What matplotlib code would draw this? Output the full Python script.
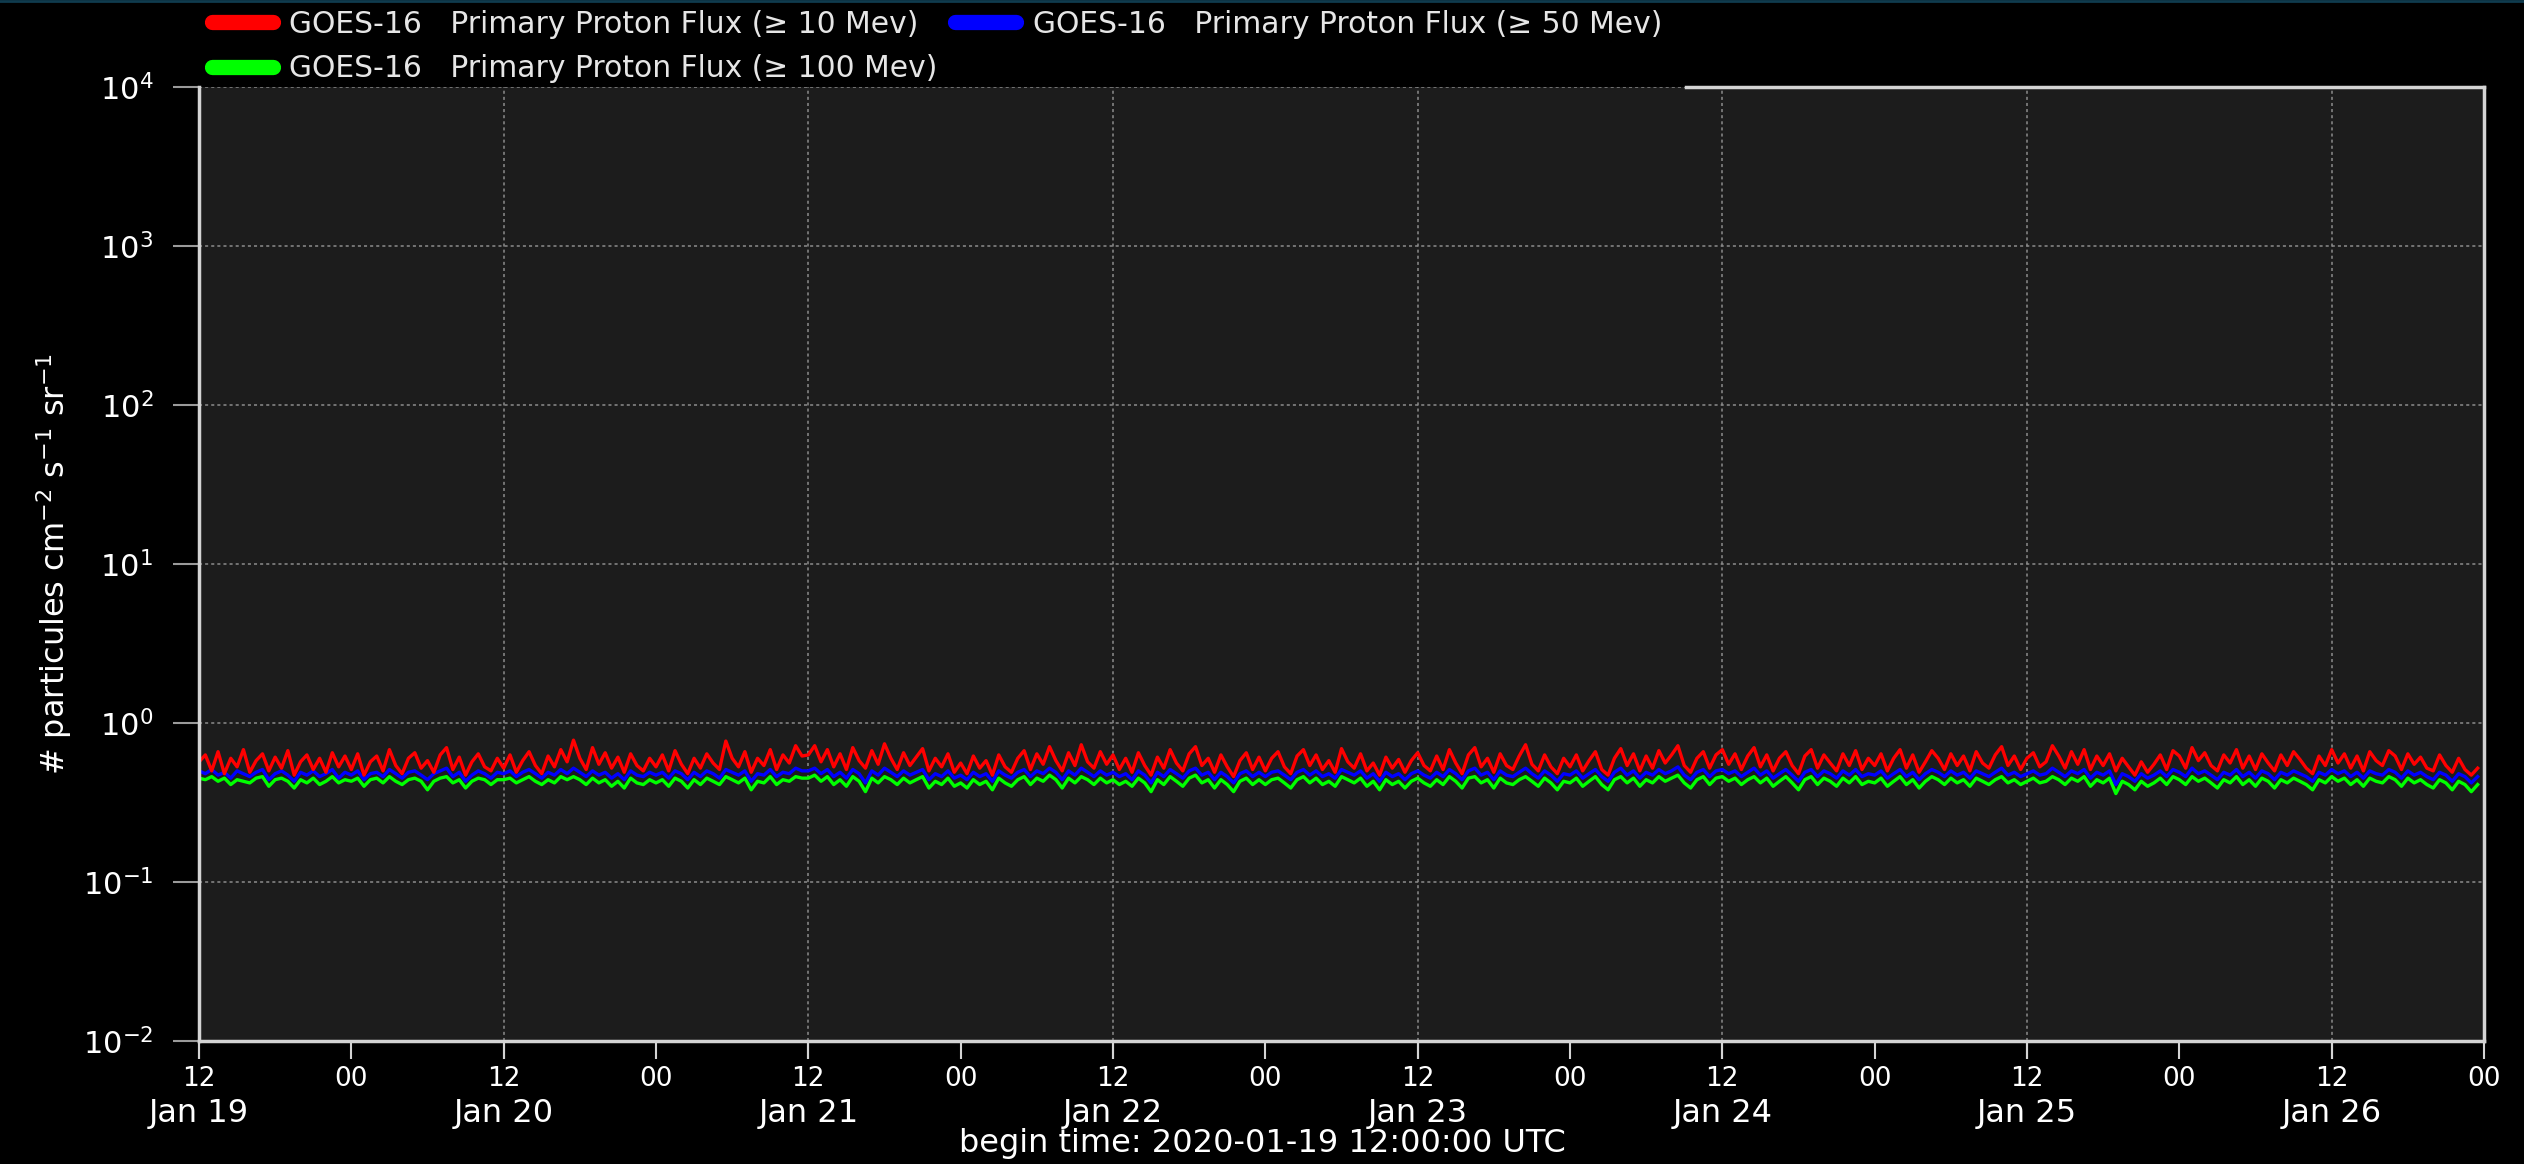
import matplotlib
matplotlib.use('Agg')
import matplotlib.pyplot as plt
import matplotlib.dates as mdates
from matplotlib.lines import Line2D
from matplotlib.ticker import LogLocator, NullLocator
import numpy as np
import pandas as pd

# 30-minute samples, starting 2020-01-19 12:00 UTC
start = '2020-01-19 12:00'
end = '2020-01-27 00:00'

flux_10 = [
    0.57, 0.63, 0.50, 0.66, 0.48, 0.60, 0.53, 0.68, 0.49, 0.58, 0.64, 0.50, 0.61, 0.52, 0.67, 0.47, 0.57, 0.63, 0.51, 0.60, 0.49, 0.65, 0.53, 0.62,
    0.51, 0.64, 0.47, 0.57, 0.62, 0.50, 0.68, 0.54, 0.48, 0.60, 0.65, 0.52, 0.58, 0.49, 0.63, 0.70, 0.51, 0.61, 0.47, 0.57, 0.64, 0.53, 0.50, 0.60,
    0.52, 0.63, 0.49, 0.58, 0.66, 0.54, 0.48, 0.62, 0.53, 0.68, 0.57, 0.78, 0.60, 0.51, 0.70, 0.55, 0.65, 0.52, 0.61, 0.49, 0.64, 0.54, 0.50, 0.60,
    0.53, 0.63, 0.50, 0.67, 0.55, 0.48, 0.60, 0.52, 0.64, 0.56, 0.51, 0.77, 0.60, 0.53, 0.66, 0.49, 0.60, 0.54, 0.68, 0.51, 0.63, 0.56, 0.72, 0.62,
    0.63, 0.72, 0.57, 0.68, 0.53, 0.64, 0.51, 0.70, 0.58, 0.52, 0.67, 0.55, 0.74, 0.60, 0.51, 0.65, 0.54, 0.61, 0.69, 0.50, 0.60, 0.53, 0.64, 0.49,
    0.56, 0.48, 0.62, 0.52, 0.58, 0.47, 0.63, 0.53, 0.49, 0.60, 0.67, 0.51, 0.64, 0.55, 0.71, 0.58, 0.50, 0.65, 0.54, 0.73, 0.57, 0.52, 0.66, 0.55,
    0.63, 0.51, 0.60, 0.49, 0.65, 0.54, 0.47, 0.61, 0.52, 0.68, 0.56, 0.50, 0.64, 0.71, 0.54, 0.60, 0.49, 0.63, 0.53, 0.46, 0.58, 0.65, 0.51, 0.61,
    0.50, 0.60, 0.66, 0.53, 0.48, 0.62, 0.68, 0.54, 0.63, 0.51, 0.58, 0.49, 0.69, 0.57, 0.52, 0.64, 0.50, 0.56, 0.47, 0.61, 0.52, 0.59, 0.49, 0.58,
    0.65, 0.54, 0.50, 0.62, 0.51, 0.68, 0.56, 0.48, 0.63, 0.70, 0.53, 0.60, 0.49, 0.64, 0.54, 0.51, 0.62, 0.73, 0.55, 0.50, 0.63, 0.53, 0.48, 0.60,
    0.53, 0.63, 0.50, 0.58, 0.66, 0.51, 0.47, 0.60, 0.69, 0.54, 0.64, 0.50, 0.62, 0.52, 0.67, 0.56, 0.63, 0.72, 0.54, 0.49, 0.60, 0.66, 0.52, 0.63,
    0.68, 0.55, 0.64, 0.51, 0.62, 0.70, 0.53, 0.63, 0.50, 0.60, 0.66, 0.54, 0.48, 0.62, 0.68, 0.52, 0.63, 0.56, 0.50, 0.64, 0.54, 0.67, 0.51, 0.60,
    0.54, 0.64, 0.50, 0.60, 0.68, 0.52, 0.63, 0.49, 0.57, 0.67, 0.60, 0.51, 0.64, 0.54, 0.62, 0.50, 0.66, 0.56, 0.52, 0.63, 0.71, 0.54, 0.62, 0.51,
    0.60, 0.65, 0.53, 0.57, 0.72, 0.62, 0.52, 0.66, 0.55, 0.68, 0.51, 0.62, 0.54, 0.64, 0.50, 0.60, 0.53, 0.47, 0.57, 0.49, 0.55, 0.63, 0.51, 0.67,
    0.62, 0.52, 0.70, 0.58, 0.65, 0.54, 0.50, 0.63, 0.56, 0.68, 0.52, 0.62, 0.51, 0.64, 0.56, 0.50, 0.63, 0.54, 0.66, 0.59, 0.52, 0.48, 0.62, 0.54,
    0.68, 0.56, 0.64, 0.52, 0.62, 0.50, 0.66, 0.58, 0.54, 0.67, 0.62, 0.51, 0.64, 0.55, 0.61, 0.52, 0.50, 0.63, 0.54, 0.49, 0.60, 0.51, 0.47, 0.52,
]

flux_50 = [
    0.50, 0.48, 0.51, 0.47, 0.49, 0.45, 0.50, 0.48, 0.46, 0.49, 0.51, 0.44, 0.48, 0.50, 0.47, 0.43, 0.49, 0.47, 0.50, 0.46, 0.48, 0.51, 0.45, 0.49,
    0.47, 0.50, 0.44, 0.48, 0.49, 0.46, 0.51, 0.48, 0.45, 0.49, 0.50, 0.47, 0.44, 0.48, 0.50, 0.52, 0.46, 0.49, 0.43, 0.47, 0.50, 0.48, 0.45, 0.49,
    0.48, 0.50, 0.46, 0.49, 0.51, 0.48, 0.45, 0.49, 0.47, 0.51, 0.48, 0.52, 0.49, 0.46, 0.50, 0.47, 0.49, 0.45, 0.48, 0.44, 0.50, 0.47, 0.46, 0.49,
    0.47, 0.49, 0.45, 0.50, 0.48, 0.44, 0.49, 0.46, 0.50, 0.48, 0.45, 0.51, 0.49, 0.47, 0.50, 0.43, 0.48, 0.47, 0.51, 0.46, 0.49, 0.48, 0.52, 0.50,
    0.50, 0.52, 0.48, 0.51, 0.46, 0.49, 0.45, 0.51, 0.48, 0.42, 0.50, 0.47, 0.52, 0.49, 0.46, 0.50, 0.47, 0.49, 0.51, 0.44, 0.48, 0.46, 0.50, 0.45,
    0.47, 0.44, 0.49, 0.46, 0.48, 0.43, 0.50, 0.47, 0.45, 0.49, 0.51, 0.46, 0.50, 0.48, 0.52, 0.49, 0.44, 0.50, 0.47, 0.52, 0.49, 0.46, 0.50, 0.47,
    0.49, 0.46, 0.48, 0.44, 0.50, 0.47, 0.42, 0.49, 0.46, 0.51, 0.48, 0.45, 0.50, 0.52, 0.47, 0.49, 0.44, 0.49, 0.46, 0.42, 0.48, 0.50, 0.46, 0.49,
    0.46, 0.49, 0.50, 0.47, 0.44, 0.49, 0.51, 0.47, 0.50, 0.46, 0.48, 0.45, 0.51, 0.49, 0.47, 0.50, 0.45, 0.48, 0.43, 0.49, 0.46, 0.48, 0.44, 0.48,
    0.50, 0.47, 0.45, 0.49, 0.46, 0.51, 0.48, 0.44, 0.50, 0.52, 0.47, 0.49, 0.44, 0.50, 0.47, 0.46, 0.49, 0.52, 0.48, 0.45, 0.50, 0.47, 0.43, 0.48,
    0.47, 0.50, 0.45, 0.48, 0.51, 0.46, 0.43, 0.49, 0.52, 0.47, 0.50, 0.45, 0.49, 0.47, 0.51, 0.48, 0.50, 0.53, 0.47, 0.44, 0.49, 0.51, 0.46, 0.50,
    0.51, 0.48, 0.50, 0.46, 0.49, 0.52, 0.47, 0.50, 0.45, 0.48, 0.51, 0.47, 0.43, 0.49, 0.51, 0.46, 0.50, 0.48, 0.45, 0.50, 0.47, 0.51, 0.46, 0.48,
    0.47, 0.50, 0.45, 0.48, 0.51, 0.46, 0.49, 0.44, 0.48, 0.51, 0.49, 0.46, 0.50, 0.47, 0.49, 0.45, 0.50, 0.48, 0.46, 0.49, 0.52, 0.47, 0.49, 0.46,
    0.48, 0.50, 0.47, 0.48, 0.52, 0.49, 0.46, 0.50, 0.48, 0.51, 0.45, 0.49, 0.47, 0.50, 0.41, 0.48, 0.46, 0.43, 0.48, 0.45, 0.47, 0.50, 0.46, 0.51,
    0.49, 0.46, 0.52, 0.48, 0.50, 0.47, 0.44, 0.49, 0.47, 0.51, 0.46, 0.49, 0.45, 0.50, 0.48, 0.44, 0.49, 0.47, 0.50, 0.48, 0.46, 0.43, 0.49, 0.47,
    0.51, 0.48, 0.50, 0.46, 0.49, 0.45, 0.50, 0.48, 0.47, 0.51, 0.49, 0.45, 0.50, 0.47, 0.49, 0.46, 0.44, 0.49, 0.47, 0.43, 0.48, 0.46, 0.42, 0.46,
]

flux_100 = [
    0.45, 0.44, 0.46, 0.43, 0.45, 0.41, 0.44, 0.43, 0.42, 0.45, 0.46, 0.40, 0.44, 0.45, 0.43, 0.39, 0.44, 0.42, 0.45, 0.41, 0.43, 0.46, 0.42, 0.44,
    0.43, 0.45, 0.40, 0.44, 0.45, 0.42, 0.46, 0.43, 0.41, 0.44, 0.45, 0.43, 0.38, 0.43, 0.45, 0.46, 0.42, 0.44, 0.39, 0.43, 0.45, 0.44, 0.41, 0.44,
    0.44, 0.45, 0.42, 0.44, 0.46, 0.43, 0.41, 0.44, 0.42, 0.46, 0.44, 0.46, 0.44, 0.41, 0.45, 0.42, 0.44, 0.40, 0.43, 0.39, 0.45, 0.42, 0.41, 0.44,
    0.42, 0.44, 0.40, 0.45, 0.43, 0.39, 0.44, 0.41, 0.45, 0.43, 0.41, 0.46, 0.44, 0.42, 0.45, 0.38, 0.43, 0.42, 0.46, 0.41, 0.44, 0.43, 0.46, 0.45,
    0.45, 0.47, 0.43, 0.46, 0.41, 0.44, 0.40, 0.46, 0.43, 0.37, 0.45, 0.42, 0.46, 0.44, 0.41, 0.45, 0.42, 0.44, 0.46, 0.39, 0.43, 0.41, 0.45, 0.40,
    0.42, 0.39, 0.44, 0.41, 0.43, 0.38, 0.45, 0.42, 0.40, 0.44, 0.46, 0.41, 0.45, 0.43, 0.47, 0.44, 0.39, 0.45, 0.42, 0.46, 0.44, 0.41, 0.45, 0.42,
    0.44, 0.41, 0.43, 0.40, 0.45, 0.42, 0.37, 0.44, 0.41, 0.46, 0.43, 0.40, 0.45, 0.47, 0.42, 0.44, 0.39, 0.44, 0.41, 0.37, 0.43, 0.45, 0.41, 0.44,
    0.41, 0.44, 0.45, 0.42, 0.39, 0.44, 0.46, 0.42, 0.45, 0.41, 0.43, 0.40, 0.46, 0.44, 0.42, 0.45, 0.40, 0.43, 0.38, 0.44, 0.41, 0.43, 0.39, 0.43,
    0.45, 0.42, 0.40, 0.44, 0.41, 0.46, 0.43, 0.39, 0.45, 0.46, 0.42, 0.44, 0.39, 0.45, 0.42, 0.41, 0.44, 0.46, 0.43, 0.40, 0.45, 0.42, 0.38, 0.43,
    0.42, 0.45, 0.40, 0.43, 0.46, 0.41, 0.38, 0.44, 0.46, 0.42, 0.45, 0.40, 0.44, 0.42, 0.46, 0.43, 0.45, 0.47, 0.42, 0.39, 0.44, 0.46, 0.41, 0.45,
    0.46, 0.43, 0.45, 0.41, 0.44, 0.46, 0.42, 0.45, 0.40, 0.43, 0.46, 0.42, 0.38, 0.44, 0.46, 0.41, 0.45, 0.43, 0.40, 0.45, 0.42, 0.46, 0.41, 0.43,
    0.42, 0.45, 0.40, 0.43, 0.46, 0.41, 0.44, 0.39, 0.43, 0.46, 0.44, 0.41, 0.45, 0.42, 0.44, 0.40, 0.45, 0.43, 0.41, 0.44, 0.46, 0.42, 0.44, 0.41,
    0.43, 0.45, 0.42, 0.43, 0.46, 0.44, 0.41, 0.45, 0.43, 0.46, 0.40, 0.44, 0.42, 0.45, 0.36, 0.43, 0.41, 0.38, 0.43, 0.40, 0.42, 0.45, 0.41, 0.46,
    0.44, 0.41, 0.46, 0.43, 0.45, 0.42, 0.39, 0.44, 0.42, 0.46, 0.41, 0.44, 0.40, 0.45, 0.43, 0.39, 0.44, 0.42, 0.45, 0.43, 0.41, 0.38, 0.44, 0.42,
    0.46, 0.43, 0.45, 0.41, 0.44, 0.40, 0.45, 0.43, 0.42, 0.46, 0.44, 0.40, 0.45, 0.42, 0.44, 0.41, 0.39, 0.44, 0.42, 0.38, 0.43, 0.41, 0.37, 0.41,
]

labels = ['GOES-16   Primary Proton Flux (\u2265 10 Mev)',
          'GOES-16   Primary Proton Flux (\u2265 50 Mev)',
          'GOES-16   Primary Proton Flux (\u2265 100 Mev)']
colors = ['#ff0000', '#0000ff', '#00ff00']

spine_col = '#d4d4d4'
grid_col = '#8c8c8c'

fig = plt.figure(figsize=(25.24, 11.64), dpi=100, facecolor='black')
ax = fig.add_axes([199/2524, 1-1041/1164, (2484-199)/2524, (1041-87)/1164])
ax.set_facecolor('#1c1c1c')

series = [flux_100, flux_50, flux_10]
cols = [colors[2], colors[1], colors[0]]
for vals, c in zip(series, cols):
    t = pd.date_range(start, periods=len(vals), freq='30min')
    ax.plot(t.to_pydatetime(), vals, color=c, lw=2.4)

ax.set_yscale('log')
ax.set_ylim(1e-2, 1e4)
ax.set_xlim(pd.Timestamp(start), pd.Timestamp(end))
ax.yaxis.set_major_locator(LogLocator(base=10, numticks=10))
ax.yaxis.set_minor_locator(NullLocator())

ax.xaxis.set_major_locator(mdates.HourLocator(byhour=[12]))
ax.xaxis.set_minor_locator(mdates.HourLocator(byhour=[0, 12]))
ax.xaxis.remove_overlapping_locs = False
ax.xaxis.set_major_formatter(mdates.DateFormatter('%b %d'))
ax.xaxis.set_minor_formatter(mdates.DateFormatter('%H'))

ax.tick_params(axis='x', which='major', length=13, width=1.5, color=spine_col,
               pad=28, labelsize=23, labelcolor='white')
ax.tick_params(axis='x', which='minor', length=13, width=1.5, color=spine_col,
               pad=5, labelsize=19, labelcolor='white')
ax.tick_params(axis='y', which='major', length=19, width=1.5, color='#9a9a9a',
               pad=14, labelsize=22, labelcolor='white')

ax.grid(True, which='major', axis='both', color=grid_col, linestyle=(0, (2, 2)), lw=1.1)

for s in ['left', 'right', 'bottom']:
    ax.spines[s].set_color(spine_col)
    ax.spines[s].set_linewidth(2.5)
ax.spines['top'].set_visible(False)
# top border only visible to the right of the legend block
ax.plot([0.6508, 1.0], [1.0, 1.0], transform=ax.transAxes, color=spine_col,
        lw=2.5, clip_on=False)

ax.set_ylabel('# particules cm$^{-2}$ s$^{-1}$ sr$^{-1}$', color='white',
              fontsize=23, labelpad=6)

fig.text(0.5, 0.018, 'begin time: 2020-01-19 12:00:00 UTC', color='white',
         fontsize=23, ha='center', va='center')

handles = [Line2D([], [], color=c, lw=11, solid_capstyle='round') for c in colors]
order = [0, 2, 1]
fig.legend([handles[i] for i in order], [labels[i] for i in order], ncol=2,
           loc='upper left', bbox_to_anchor=(212/2524, 0.9915), frameon=False,
           fontsize=21.4, labelcolor='#e6e6e6', handlelength=2.05, handletextpad=0.55,
           columnspacing=0.6, labelspacing=0.52, borderpad=0, borderaxespad=0)

fig.add_artist(Line2D([0, 1], [0.9995, 0.9995], transform=fig.transFigure,
                      color='#0f3b4e', lw=2))

fig.savefig('out.png', dpi=100, facecolor='black')
